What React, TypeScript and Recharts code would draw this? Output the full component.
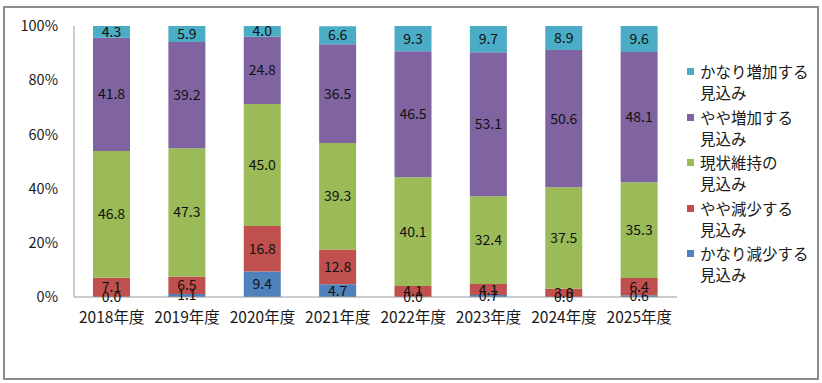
import { BarChart, Bar, XAxis, YAxis, LabelList } from "recharts";

const years = ["2018年度", "2019年度", "2020年度", "2021年度", "2022年度", "2023年度", "2024年度", "2025年度"];
const sharpDecrease = [0.0, 1.1, 9.4, 4.7, 0.0, 0.7, 0.0, 0.6];
const slightDecrease = [7.1, 6.5, 16.8, 12.8, 4.1, 4.1, 3.0, 6.4];
const maintain = [46.8, 47.3, 45.0, 39.3, 40.1, 32.4, 37.5, 35.3];
const slightIncrease = [41.8, 39.2, 24.8, 36.5, 46.5, 53.1, 50.6, 48.1];
const sharpIncrease = [4.3, 5.9, 4.0, 6.6, 9.3, 9.7, 8.9, 9.6];
const yTicks = [0, 20, 40, 60, 80, 100];

const series = [
  { key: "sharpDecrease", name: "かなり減少する見込み", color: "#4F81BD" },
  { key: "slightDecrease", name: "やや減少する見込み", color: "#C0504D" },
  { key: "maintain", name: "現状維持の見込み", color: "#9BBB59" },
  { key: "slightIncrease", name: "やや増加する見込み", color: "#8064A2" },
  { key: "sharpIncrease", name: "かなり増加する見込み", color: "#4BACC6" },
];

// legend lines as in the original (two lines each, top to bottom)
const legendItems = [
  { color: "#4BACC6", lines: ["かなり増加する", "見込み"] },
  { color: "#8064A2", lines: ["やや増加する", "見込み"] },
  { color: "#9BBB59", lines: ["現状維持の", "見込み"] },
  { color: "#C0504D", lines: ["やや減少する", "見込み"] },
  { color: "#4F81BD", lines: ["かなり減少する", "見込み"] },
];

const data = years.map((y, i) => ({
  year: y,
  sharpDecrease: sharpDecrease[i],
  slightDecrease: slightDecrease[i],
  maintain: maintain[i],
  slightIncrease: slightIncrease[i],
  sharpIncrease: sharpIncrease[i],
}));

const FONT = "'Noto Sans CJK JP', 'Noto Sans', sans-serif";

export default function App() {
  return (
    <div style={{ position: "absolute", left: 0, top: 0, width: 822, height: 383, background: "#fff", fontFamily: FONT }}>
      <div
        style={{
          position: "absolute",
          left: 3,
          top: 6,
          width: 812,
          height: 370,
          border: "2px solid #8c8c8c",
          background: "#fff",
        }}
      />
      <div style={{ position: "absolute", left: 0, top: 0 }}>
        <BarChart
          width={822}
          height={383}
          data={data}
          margin={{ top: 26, right: 145, left: 0, bottom: 56 }}
          barSize={37}
        >
          <XAxis
            dataKey="year"
            tickLine={false}
            axisLine={{ stroke: "#999" }}
            tickSize={6}
            tickMargin={9}
            height={30}
            tick={{ fontSize: 15.5, fill: "#1a1a1a", fontFamily: FONT }}
            interval={0}
          />
          <YAxis
            domain={[0, 100]}
            ticks={yTicks}
            tickFormatter={(v: number) => `${v}%`}
            tickLine={false}
            axisLine={{ stroke: "#999" }}
            tickSize={6}
            tickMargin={10}
            width={74}
            tick={{ fontSize: 14.5, fill: "#1a1a1a", fontFamily: FONT }}
          />
          {series.map((s) => (
            <Bar
              key={s.key}
              dataKey={s.key}
              name={s.name}
              stackId="a"
              fill={s.color}
              minPointSize={0.01}
              isAnimationActive={false}
            >
              <LabelList
                dataKey={s.key}
                position="center"
                formatter={(v: number) => Number(v).toFixed(1)}
                style={{ fontSize: 14, fill: "#111", fontFamily: FONT }}
              />
            </Bar>
          ))}
        </BarChart>
      </div>
      <div style={{ position: "absolute", left: 687, top: 60 }}>
        {legendItems.map((l, i) => (
          <div key={i} style={{ position: "absolute", top: i * 45.6, left: 0, width: 130 }}>
            <span
              style={{ position: "absolute", left: 0, top: 8, width: 7, height: 7, background: l.color }}
            />
            {l.lines.map((t, j) => (
              <div
                key={j}
                style={{ position: "absolute", left: 13, top: j * 21, fontSize: 15.5, lineHeight: "22px", color: "#1a1a1a", whiteSpace: "nowrap" }}
              >
                {t}
              </div>
            ))}
          </div>
        ))}
      </div>
    </div>
  );
}
